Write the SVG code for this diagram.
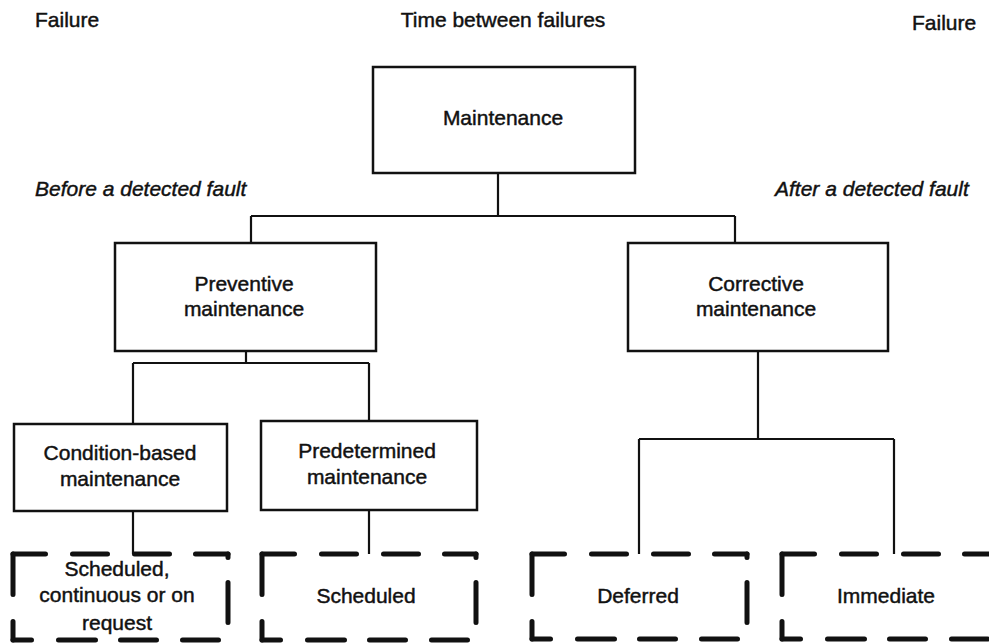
<svg xmlns="http://www.w3.org/2000/svg" width="989" height="644" viewBox="0 0 989 644">
<style>
  text { font-family: "Liberation Sans", Arial, sans-serif; font-size: 21px; fill: #111; stroke: #111; stroke-width: 0.45; }
  .c { text-anchor: middle; }
  .i { font-style: italic; }
  .box { fill: #fff; stroke: #111; stroke-width: 2.5; }
  .bg { fill: #fff; stroke: none; }
  .d { fill: none; stroke: #111; stroke-width: 5; stroke-linecap: round; }
  .dt { stroke-dasharray: 32.5 27 35 27 35 26 35 100; }
  .dl { stroke-dasharray: 40.5 27 100; }
  .dr { stroke-dasharray: 3.5 25 40 100; }
  .db { stroke-dasharray: 18.5 27 37 25 36 26 36 100; }
  .conn { fill: none; stroke: #111; stroke-width: 2.2; }
</style>
<rect width="989" height="644" fill="#fff"/>
<g id="labels">
  <text x="35" y="27">Failure</text>
  <text x="503" y="27" class="c">Time between failures</text>
  <text x="912" y="30">Failure</text>
  <text x="35" y="196" class="i">Before a detected fault</text>
  <text x="775" y="196" class="i">After a detected fault</text>
</g>
<g id="connectors">
  <path class="conn" d="M498 173 V216 M251 216 H735 M251 216 V243 M735 216 V243"/>
  <path class="conn" d="M246 351 V363 M133 363 H369 M133 363 V424 M369 363 V421"/>
  <path class="conn" d="M133 511 V554 M369 510 V554"/>
  <path class="conn" d="M758 351 V439 M639 439 H894 M639 439 V554 M894 439 V554"/>
</g>
<g id="maintenance">
  <rect class="box" x="373" y="67" width="262" height="106"/>
  <text x="503" y="125" class="c">Maintenance</text>
</g>
<g id="preventive">
  <rect class="box" x="115" y="243" width="261" height="108"/>
  <text x="244" y="291" class="c">Preventive</text>
  <text x="244" y="316" class="c">maintenance</text>
</g>
<g id="corrective">
  <rect class="box" x="628" y="243" width="260" height="108"/>
  <text x="756" y="291" class="c">Corrective</text>
  <text x="756" y="316" class="c">maintenance</text>
</g>
<g id="condition-based">
  <rect class="box" x="14" y="424" width="213" height="87"/>
  <text x="120" y="460" class="c">Condition-based</text>
  <text x="120" y="486" class="c">maintenance</text>
</g>
<g id="predetermined">
  <rect class="box" x="261" y="421" width="216" height="89"/>
  <text x="367" y="458" class="c">Predetermined</text>
  <text x="367" y="484" class="c">maintenance</text>
</g>
<g id="scheduled-continuous">
  <rect class="bg" x="15" y="556" width="211" height="82"/>
  <line class="d dt" x1="13" y1="554" x2="228" y2="554"/>
  <line class="d dl" x1="13" y1="554" x2="13" y2="640"/>
  <line class="d dr" x1="228" y1="554" x2="228" y2="640"/>
  <line class="d db" x1="13" y1="640" x2="228" y2="640"/>
  <text x="117" y="576" class="c">Scheduled,</text>
  <text x="117" y="602" class="c">continuous or on</text>
  <text x="117" y="630" class="c">request</text>
</g>
<g id="scheduled">
  <rect class="bg" x="264" y="556" width="210" height="82"/>
  <line class="d dt" x1="262" y1="554" x2="476" y2="554"/>
  <line class="d dl" x1="262" y1="554" x2="262" y2="640"/>
  <line class="d dr" x1="476" y1="554" x2="476" y2="640"/>
  <line class="d db" x1="262" y1="640" x2="476" y2="640"/>
  <text x="366" y="603" class="c">Scheduled</text>
</g>
<g id="deferred">
  <rect class="bg" x="534" y="556" width="211" height="81"/>
  <line class="d dt" x1="532" y1="554" x2="747" y2="554"/>
  <line class="d dl" x1="532" y1="554" x2="532" y2="639"/>
  <line class="d dr" x1="747" y1="554" x2="747" y2="639"/>
  <line class="d db" x1="532" y1="639" x2="747" y2="639"/>
  <text x="638" y="603" class="c">Deferred</text>
</g>
<g id="immediate">
  <rect class="bg" x="784" y="556" width="210" height="81"/>
  <line class="d dt" x1="782" y1="554" x2="996" y2="554"/>
  <line class="d dl" x1="782" y1="554" x2="782" y2="639"/>
  <line class="d dr" x1="996" y1="554" x2="996" y2="639"/>
  <line class="d db" x1="782" y1="639" x2="996" y2="639"/>
  <text x="886" y="603" class="c">Immediate</text>
</g>
</svg>
